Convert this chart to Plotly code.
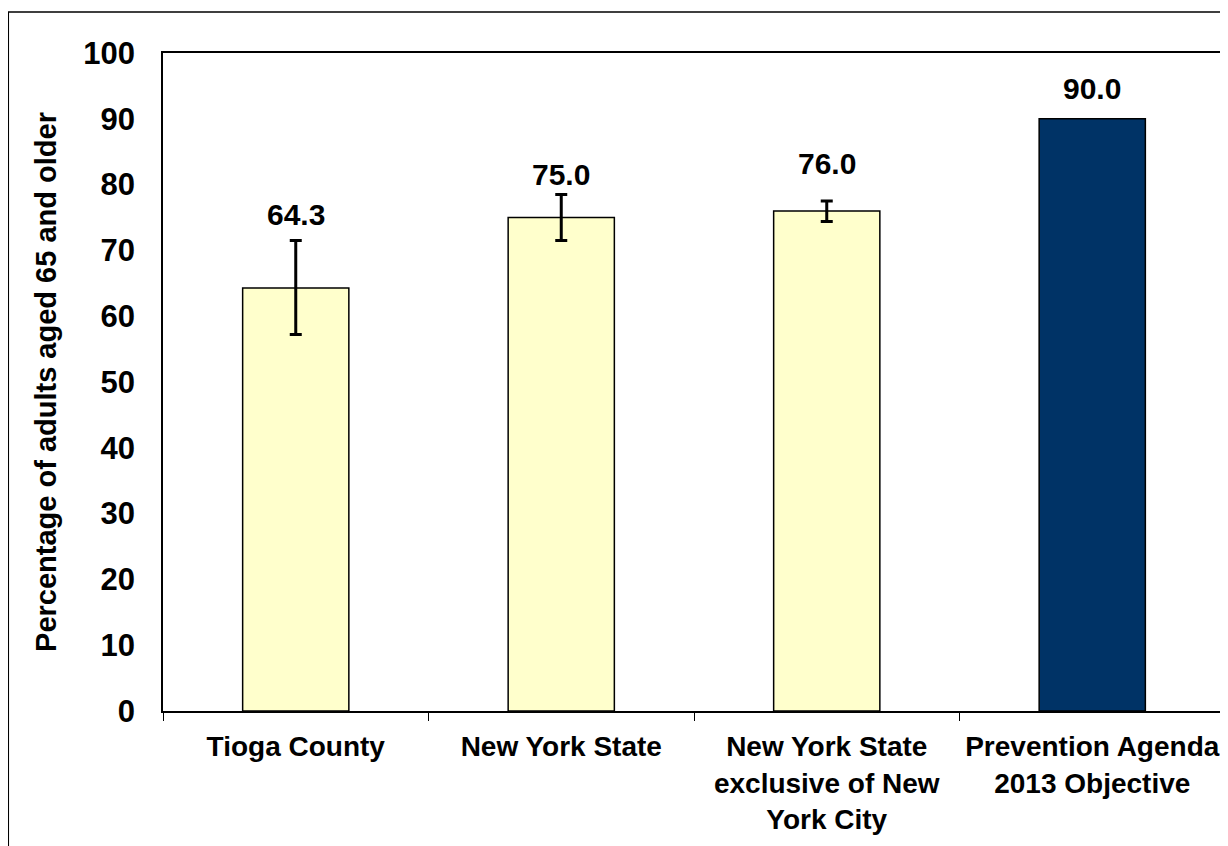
import plotly.graph_objects as go

categories = ["Tioga County", "New York State", "New York State<br>exclusive of New<br>York City",
              "Prevention Agenda<br>2013 Objective"]
values = [64.3, 75.0, 76.0, 90.0]
err_plus = [7.2, 3.5, 1.5, 0.0]
err_minus = [7.1, 3.5, 1.6, 0.0]
has_ci = [True, True, True, False]
bar_colors = ["#FFFFCC", "#FFFFCC", "#FFFFCC", "#003366"]
y_ticks = [0, 10, 20, 30, 40, 50, 60, 70, 80, 90, 100]
y_title = "Percentage of adults aged 65 and older"

label_lift_px = [8, 1, 19, 12]

# page body has an 8px margin; figure is sized to fill the remaining window
W, H = 1220, 838
L, T, R, B = 155, 45, 1219, 703

FONT = "Liberation Sans, Arial, sans-serif"

fig = go.Figure()
for c, v, ep, em, ci, col in zip(categories, values, err_plus, err_minus, has_ci, bar_colors):
    fig.add_trace(go.Bar(
        x=[c], y=[v],
        marker=dict(color=col, line=dict(color="black", width=1.5)),
        error_y=dict(type="data", symmetric=False, array=[ep], arrayminus=[em],
                     color="black", thickness=3, width=6, visible=ci),
        hoverinfo="skip",
    ))

for c, v, e, lift in zip(categories, values, err_plus, label_lift_px):
    fig.add_annotation(x=c, y=v + e, text=f"{v:.1f}", showarrow=False,
                       yanchor="bottom", yshift=lift,
                       font=dict(family=FONT, size=30, color="black", weight="bold"))

pw = R - L
ph = B - T
fig.add_shape(type="rect", xref="paper", yref="paper",
              x0=(0 - L) / pw, x1=(W + 20 - L) / pw,
              y0=(B - (H + 20)) / ph, y1=(B - 4) / ph,
              line=dict(color="black", width=1.5), fillcolor="rgba(0,0,0,0)", layer="below")

fig.update_layout(
    width=W, height=H,
    margin=dict(l=L, r=W - R, t=T, b=H - B, pad=0),
    paper_bgcolor="white", plot_bgcolor="white",
    showlegend=False,
    barmode="overlay",
    bargap=0.6,
    font=dict(family=FONT, color="black"),
    xaxis=dict(showline=True, mirror=True, linecolor="black", linewidth=1.5,
               ticks="outside", tickson="boundaries", ticklen=8, tickcolor="black",
               ticklabelstandoff=10, categoryorder="array", categoryarray=categories,
               tickfont=dict(family=FONT, size=28, color="black", weight="bold"),
               showgrid=False),
    yaxis=dict(range=[0, 100], tickvals=y_ticks, showline=True, mirror=True,
               linecolor="black", linewidth=1.5, showgrid=False, zeroline=False,
               ticks="", ticklabelstandoff=20,
               tickfont=dict(family=FONT, size=31, color="black", weight="bold"),
               title=dict(text=y_title, standoff=18,
                          font=dict(family=FONT, size=29, color="black", weight="bold"))),
)

fig.write_html("out.html")
